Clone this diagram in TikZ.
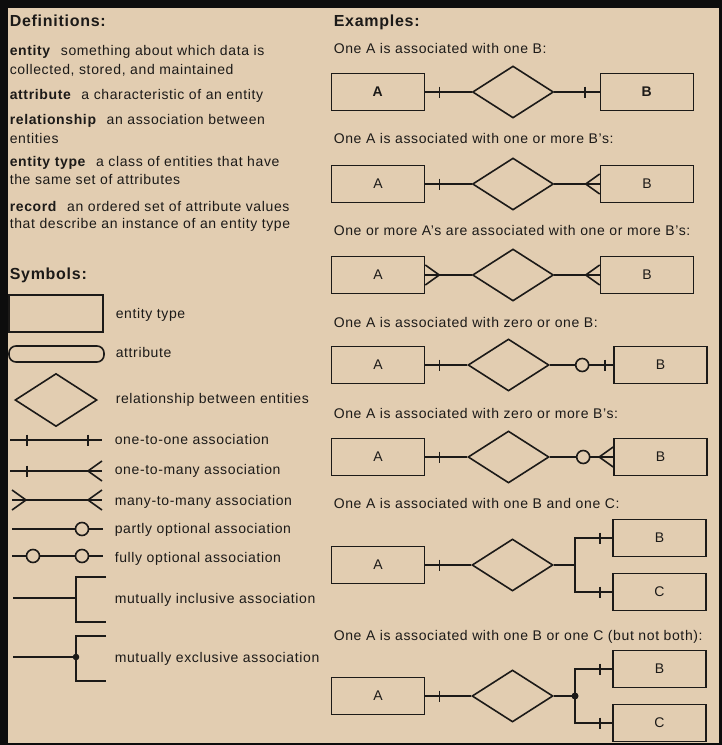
\documentclass[tikz,border=0pt]{standalone}
\usepackage{fontspec}
\setmainfont{Liberation Sans}[LetterSpace=4.5]
\usetikzlibrary{shapes.geometric, arrows}
\definecolor{paper}{RGB}{226,205,177}
\definecolor{ink}{RGB}{28,26,24}
\tikzstyle{entity} = [rectangle, minimum width=93, minimum height=37, inner sep=0, draw=ink, text=ink, font=\fontsize{14}{17}\selectfont]
\tikzstyle{relation} = [diamond, minimum width=81, minimum height=52, inner sep=0, draw=ink]
\tikzstyle{txt} = [anchor=base west, inner sep=0, text=ink, font=\fontsize{14}{17}\selectfont]
\tikzstyle{head} = [anchor=base west, inner sep=0, text=ink, font=\fontsize{16}{19}\selectfont\bfseries]
\tikzstyle{link} = [draw=ink, line width=1.6]
\tikzset{
  onebar/.pic = {\draw[link] (0,-5.5) -- (0,5.5);},
  crowfoot/.pic = {\draw[link] (0,-10) -- (-14,0) -- (0,10);},
  zeroring/.pic = {\draw[link, fill=paper] (0,0) circle (6.5);}
}

\begin{document}
\begin{tikzpicture}[x=1pt, y=-1pt, line width=1.6]
\useasboundingbox (0,0) rectangle (722,745);
\fill[black!95] (0,0) rectangle (722,745);
\fill[paper] (8,8) rectangle (719,743);

% definitions
\node (defhead) [head] at (9,26) {Definitions:};
\node (def1a) [txt] at (9,55) {\textbf{entity}\hspace{10pt}something about which data is};
\node (def1b) [txt] at (9,74) {collected, stored, and maintained};
\node (def2a) [txt] at (9,99) {\textbf{attribute}\hspace{10pt}a characteristic of an entity};
\node (def3a) [txt] at (9,124) {\textbf{relationship}\hspace{10pt}an association between};
\node (def3b) [txt] at (9,143) {entities};
\node (def4a) [txt] at (9,166) {\textbf{entity type}\hspace{10pt}a class of entities that have};
\node (def4b) [txt] at (9,184) {the same set of attributes};
\node (def5a) [txt] at (9,211) {\textbf{record}\hspace{10pt}an ordered set of attribute values};
\node (def5b) [txt] at (9,228) {that describe an instance of an entity type};

% symbols
\node (symhead) [head] at (9,279) {Symbols:};
\node (symEnt) [entity, minimum width=94] at (56,313.5) {};
\node (symAttr) [draw=ink, rounded corners=7, minimum width=95, minimum height=16, inner sep=0] at (56.5,354) {};
\node (symRel) [relation, minimum width=82, minimum height=53] at (56,400) {};
\node (labEnt) [txt] at (115,318) {entity type};
\node (labAttr) [txt] at (115,357) {attribute};
\node (labRel) [txt] at (115,403) {relationship between entities};
\node (labOO) [txt] at (114,444) {one-to-one association};
\node (labOM) [txt] at (114,474) {one-to-many association};
\node (labMM) [txt] at (114,505) {many-to-many association};
\node (labPO) [txt] at (114,533) {partly optional association};
\node (labFO) [txt] at (114,562) {fully optional association};
\node (labMI) [txt] at (114,603) {mutually inclusive association};
\node (labME) [txt] at (114,662) {mutually exclusive association};

\coordinate (oo1) at (10,440); \coordinate (oo2) at (102,440);
\draw[link] (oo1) -- (oo2);
\pic at (27,440) {onebar}; \pic at (88,440) {onebar};
\coordinate (om1) at (10,471); \coordinate (om2) at (102,471);
\draw[link] (om1) -- (om2);
\pic at (27,471) {onebar}; \pic at (om2) {crowfoot};
\coordinate (mm1) at (12,500); \coordinate (mm2) at (102,500);
\draw[link] (mm1) -- (mm2);
\pic[rotate=180] at (mm1) {crowfoot}; \pic at (mm2) {crowfoot};
\coordinate (po1) at (12,529); \coordinate (po2) at (103,529);
\draw[link] (po1) -- (po2);
\pic at (82,529) {zeroring};
\coordinate (fo1) at (12,556); \coordinate (fo2) at (103,556);
\draw[link] (fo1) -- (fo2);
\pic at (33,556) {zeroring}; \pic at (82,556) {zeroring};
\coordinate (mi1) at (13,598); \coordinate (mi2) at (76,598);
\draw[link] (mi1) -- (mi2);
\draw[link] (106,577) -- (76,577) -- (76,622) -- (106,622);
\coordinate (me1) at (13,657); \coordinate (me2) at (76,657);
\draw[link] (me1) -- (me2);
\draw[link] (106,636) -- (76,636) -- (76,681) -- (106,681);
\fill[ink] (me2) circle (3.3);

% examples
\node (exhead) [head] at (333,26) {Examples:};
\node (cap1) [txt] at (333,53) {One A is associated with one B:};
\node (cap2) [txt] at (333,143) {One A is associated with one or more B's:};
\node (cap3) [txt] at (333,235) {One or more A's are associated with one or more B's:};
\node (cap4) [txt] at (333,327) {One A is associated with zero or one B:};
\node (cap5) [txt] at (333,418) {One A is associated with zero or more B's:};
\node (cap6) [txt] at (333,508) {One A is associated with one B and one C:};
\node (cap7) [txt] at (333,640) {One A is associated with one B or one C (but not both):};

% one to one
\node (A1) [entity] at (378,92) {\textbf{A}};
\node (R1) [relation] at (513,92) {};
\node (B1) [entity] at (647,92) {\textbf{B}};
\draw[link] (A1) -- (R1);
\draw[link] (R1) -- (B1);
\pic at ([xshift=14]A1.east) {onebar};
\pic at ([xshift=-15]B1.west) {onebar};

% one to many
\node (A2) [entity] at (378,184) {A};
\node (R2) [relation] at (513,184) {};
\node (B2) [entity] at (647,184) {B};
\draw[link] (A2) -- (R2);
\draw[link] (R2) -- (B2);
\pic at ([xshift=14]A2.east) {onebar};
\pic at (B2.west) {crowfoot};

% many to many
\node (A3) [entity] at (378,275) {A};
\node (R3) [relation] at (513,275) {};
\node (B3) [entity] at (647,275) {B};
\draw[link] (A3) -- (R3);
\draw[link] (R3) -- (B3);
\pic[rotate=180] at (A3.east) {crowfoot};
\pic at (B3.west) {crowfoot};

% zero or one
\node (A4) [entity] at (378,365) {A};
\node (R4) [relation] at (508.5,365) {};
\node (B4) [entity] at (660.5,365) {B};
\draw[link] (A4) -- (R4);
\draw[link] (R4) -- (B4);
\pic at ([xshift=14]A4.east) {onebar};
\pic at ([xshift=-31]B4.west) {zeroring};
\pic at ([xshift=-8]B4.west) {onebar};

% zero or more
\node (A5) [entity] at (378,457) {A};
\node (R5) [relation] at (508.5,457) {};
\node (B5) [entity] at (660.5,457) {B};
\draw[link] (A5) -- (R5);
\draw[link] (R5) -- (B5);
\pic at ([xshift=14]A5.east) {onebar};
\pic at ([xshift=-30]B5.west) {zeroring};
\pic at (B5.west) {crowfoot};

% one B and one C
\node (A6) [entity] at (378,565) {A};
\node (R6) [relation] at (512.5,565) {};
\node (B6) [entity] at (659.5,538) {B};
\node (C6) [entity] at (659.5,592) {C};
\coordinate (J6) at (575,565);
\draw[link] (A6) -- (R6);
\draw[link] (R6) -- (J6);
\draw[link] (B6.west) -| (J6);
\draw[link] (C6.west) -| (J6);
\pic at ([xshift=14]A6.east) {onebar};
\pic at ([xshift=-12]B6.west) {onebar};
\pic at ([xshift=-12]C6.west) {onebar};

% one B or one C
\node (A7) [entity] at (378,696) {A};
\node (R7) [relation] at (512.5,696) {};
\node (B7) [entity] at (659.5,669) {B};
\node (C7) [entity] at (659.5,723) {C};
\coordinate (J7) at (575,696);
\draw[link] (A7) -- (R7);
\draw[link] (R7) -- (J7);
\draw[link] (B7.west) -| (J7);
\draw[link] (C7.west) -| (J7);
\fill[ink] (J7) circle (3.5);
\pic at ([xshift=14]A7.east) {onebar};
\pic at ([xshift=-12]B7.west) {onebar};
\pic at ([xshift=-12]C7.west) {onebar};
\end{tikzpicture}
\end{document}
